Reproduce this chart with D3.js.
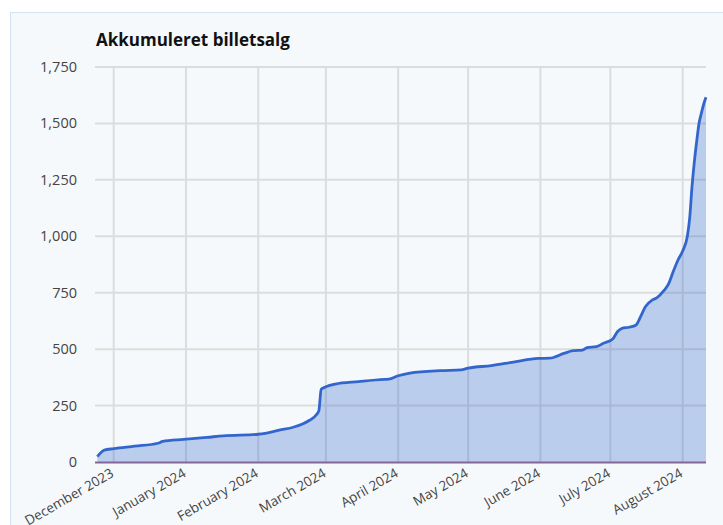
<!DOCTYPE html>
<html>
<head>
<meta charset="utf-8">
<script src="https://cdn.jsdelivr.net/npm/d3@7"></script>
<style>
  body { margin: 0; background: #fff; }
  text { font-family: "Open Sans", "DejaVu Sans", sans-serif; }
</style>
</head>
<body>
<div id="chart"></div>
<script>
// cumulative ticket sales
var saleDates = ["2023-11-24","2023-11-27","2023-12-01","2023-12-10","2023-12-20","2023-12-22","2023-12-31",
  "2024-01-10","2024-01-17","2024-02-01","2024-02-04","2024-02-10","2024-02-16","2024-02-20","2024-02-23",
  "2024-02-26","2024-02-27","2024-02-28","2024-03-01","2024-03-05","2024-03-15","2024-03-26","2024-03-28",
  "2024-04-01","2024-04-06","2024-04-19","2024-04-28","2024-05-01","2024-05-11","2024-05-21","2024-05-31",
  "2024-06-05","2024-06-11","2024-06-15","2024-06-19","2024-06-21","2024-06-25","2024-06-28","2024-07-02",
  "2024-07-04","2024-07-06","2024-07-09","2024-07-12","2024-07-14","2024-07-16","2024-07-19","2024-07-21",
  "2024-07-24","2024-07-26","2024-07-28","2024-07-30","2024-08-01","2024-08-03","2024-08-04","2024-08-05",
  "2024-08-06","2024-08-07","2024-08-08","2024-08-09","2024-08-10","2024-08-11"];
var soldTotal = [24, 53, 59, 70, 83, 91, 100,
  109, 116, 123, 127, 141, 154, 168, 185,
  210, 228, 322, 333, 345, 356, 366, 367,
  382, 394, 405, 408, 416, 427, 444, 459,
  460, 481, 493, 496, 507, 511, 526, 545,
  577, 592, 597, 607, 645, 688, 718, 728,
  760, 790, 845, 895, 935, 1000, 1080, 1220,
  1330, 1420, 1500, 1545, 1585, 1616];
var yTicks = [0, 250, 500, 750, 1000, 1250, 1500, 1750];
var monthTicks = ["2023-12-01","2024-01-01","2024-02-01","2024-03-01","2024-04-01","2024-05-01","2024-06-01","2024-07-01","2024-08-01"];

var parse = d3.timeParse("%Y-%m-%d");
var data = saleDates.map(function (d, i) { return { date: parse(d), value: soldTotal[i] }; });

var width = 723, height = 525;
var svg = d3.select("#chart").append("svg")
  .attr("width", width)
  .attr("height", height);

// panel
svg.append("rect")
  .attr("x", 10.5).attr("y", 12.5)
  .attr("width", 730).attr("height", 530)
  .attr("fill", "#f6f9fb")
  .attr("stroke", "#d4e3ef");

var x = d3.scaleTime()
  .domain([parse("2023-11-23"), parse("2024-08-11")])
  .range([95, 706]);
var y = d3.scaleLinear().domain([0, 1750]).range([462, 67]);

svg.append("text")
  .attr("x", 96).attr("y", 46)
  .attr("font-size", 17).attr("font-weight", 700)
  .attr("fill", "#111")
  .text("Akkumuleret billetsalg");

// grid
var grid = svg.append("g");
grid.selectAll(".hg").data(yTicks.slice(1)).enter().append("line")
  .attr("x1", 95).attr("x2", 706)
  .attr("y1", function (d) { return y(d); })
  .attr("y2", function (d) { return y(d); })
  .attr("stroke", "#dcdcdc").attr("stroke-width", 2);
grid.selectAll(".vg").data(monthTicks).enter().append("line")
  .attr("x1", function (d) { return x(parse(d)); })
  .attr("x2", function (d) { return x(parse(d)); })
  .attr("y1", 67).attr("y2", 462)
  .attr("stroke", "#dcdcdc").attr("stroke-width", 2);

// y labels
svg.selectAll(".yl").data(yTicks).enter().append("text")
  .attr("x", 77)
  .attr("y", function (d) { return y(d) + 5; })
  .attr("text-anchor", "end")
  .attr("font-size", 14.5)
  .attr("fill", "#444")
  .text(d3.format(","));

// x labels
var fmt = d3.timeFormat("%B %Y");
svg.selectAll(".xl").data(monthTicks).enter().append("text")
  .attr("transform", function (d) { return "translate(" + (x(parse(d)) + 1) + ",476) rotate(-30)"; })
  .attr("text-anchor", "end")
  .attr("font-size", 13.5)
  .attr("fill", "#444")
  .text(function (d) { return fmt(parse(d)); });

var area = d3.area()
  .curve(d3.curveMonotoneX)
  .x(function (d) { return x(d.date); })
  .y0(y(0))
  .y1(function (d) { return y(d.value); });
var line = d3.line()
  .curve(d3.curveMonotoneX)
  .x(function (d) { return x(d.date); })
  .y(function (d) { return y(d.value); });

svg.append("path").datum(data)
  .attr("d", area)
  .attr("fill", "#3366cc").attr("fill-opacity", 0.3);

svg.append("line")
  .attr("x1", 95).attr("x2", 706)
  .attr("y1", 462.5).attr("y2", 462.5)
  .attr("stroke", "#84659a").attr("stroke-width", 2);

svg.append("path").datum(data)
  .attr("d", line)
  .attr("fill", "none")
  .attr("stroke", "#3366cc").attr("stroke-width", 2.8);
</script>
</body>
</html>
